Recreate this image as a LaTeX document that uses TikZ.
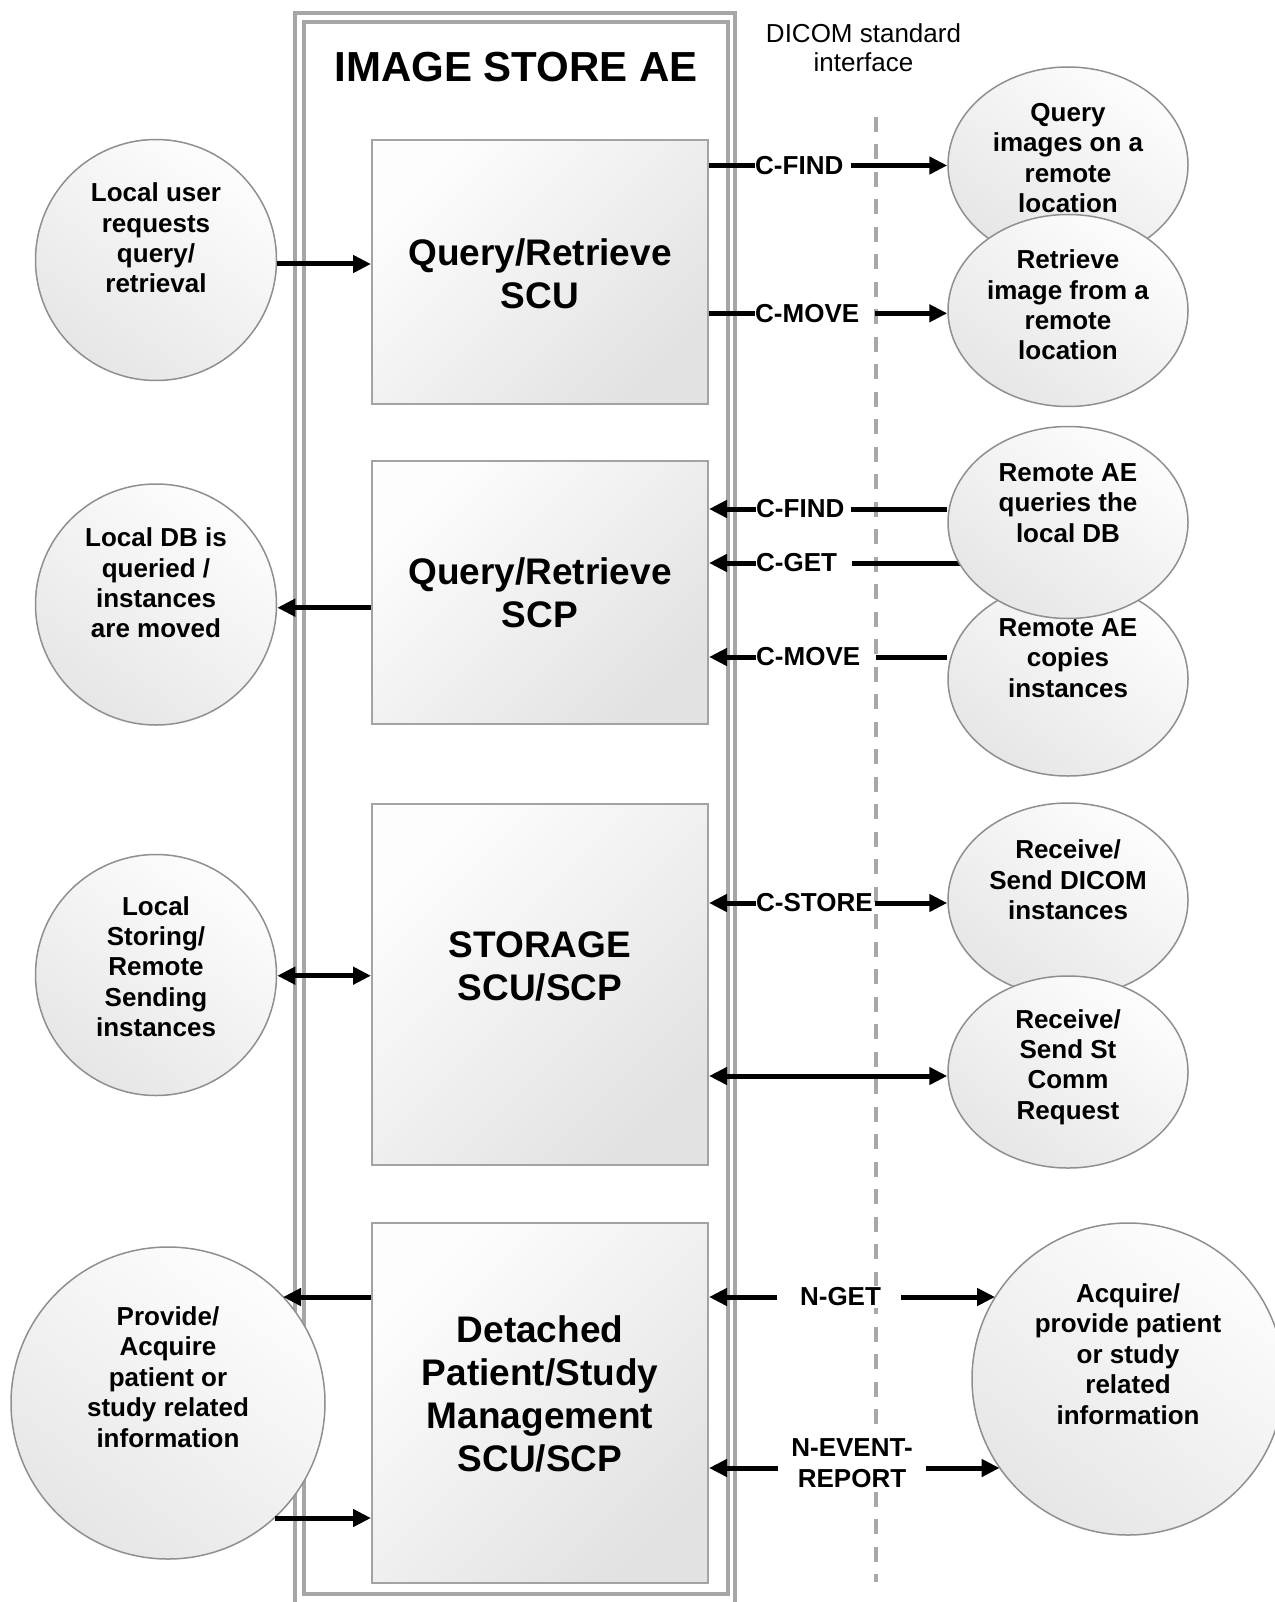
\documentclass[tikz,border=0pt]{standalone}
\usepackage{fontspec}
\setmainfont{Liberation Sans}
\usetikzlibrary{arrows.meta,shapes.geometric,calc}
\definecolor{framegray}{HTML}{A6A6A6}
\definecolor{blockedge}{HTML}{A3A3A3}
\definecolor{ovaledge}{HTML}{8F8F8F}
\definecolor{dashgray}{HTML}{A8A8A8}
\definecolor{shadeLight}{HTML}{FDFDFD}
\definecolor{shadeDark}{HTML}{E2E2E2}
\definecolor{ovalDark}{HTML}{E6E6E6}
\begin{document}
\begin{tikzpicture}[x=1pt,y=-1pt,
  >={Triangle[length=18pt,width=17pt]},
  frameline/.style={draw=framegray,line width=4pt},
  dashline/.style={draw=dashgray,line width=3.6pt,dash pattern=on 15pt off 12.5pt},
  block/.style={rectangle,draw=blockedge,line width=2pt,inner sep=0pt,minimum width=336pt,top color=shadeLight,bottom color=shadeDark,shading angle=45},
  blocktext/.style={font=\fontsize{37}{43}\selectfont\bfseries,align=center,inner sep=0pt},
  oval/.style={ellipse,draw=ovaledge,line width=1.5pt,inner sep=0pt,top color=shadeLight,bottom color=ovalDark,shading angle=-35},
  ovaltext/.style={font=\fontsize{26}{30.4}\selectfont\bfseries,align=center,inner sep=0pt},
  conn/.style={draw=black,line width=5pt},
  lbl/.style={font=\fontsize{26}{30.5}\selectfont\bfseries,inner xsep=0pt,inner ysep=2pt,fill=white,align=center},
]
\useasboundingbox (0,0) rectangle (1274,1602);

% frame of the application entity
\draw[frameline] (295.3,13.3) rectangle (735.3,1614);
\draw[frameline] (303.7,22.3) rectangle (727.7,1594);

% DICOM interface line
\coordinate (dtop) at (876,116.7);
\coordinate (dbot) at (876,1582);
\draw[dashline] (dtop) -- (dbot);

\node[font=\fontsize{42}{48}\selectfont\bfseries,inner sep=0pt] (title) at (516,67) {IMAGE STORE AE};
\node[font=\fontsize{26}{29}\selectfont,align=center,inner sep=0pt] (dicom) at (863.5,48) {DICOM standard\\interface};

% blocks
\node[block,minimum height=264pt] (SCU) at (540,272) {};
\node[block,minimum height=263pt] (SCP) at (540,592.5) {};
\node[block,minimum height=361pt] (STO) at (540,984.5) {};
\node[block,minimum height=360pt] (DET) at (540,1403) {};
\node[blocktext] (SCUt) at (540,273.5) {Query/Retrieve\\SCU};
\node[blocktext] (SCPt) at (540,592.7) {Query/Retrieve\\SCP};
\node[blocktext] (STOt) at (540,966.5) {STORAGE\\SCU/SCP};
\node[blocktext] (DETt) at (540,1394) {Detached\\Patient/Study\\Management\\SCU/SCP};

% left ovals
\node[oval,minimum width=241pt,minimum height=241pt] (L1) at (156,260) {};
\node[ovaltext] (L1t) at (156,238) {Local user\\requests\\query/\\retrieval};
\node[oval,minimum width=241pt,minimum height=241pt] (L2) at (156,604.5) {};
\node[ovaltext] (L2t) at (156,583) {Local DB is\\queried /\\instances\\are moved};
\node[oval,minimum width=241pt,minimum height=241pt] (L3) at (156,975) {};
\node[ovaltext] (L3t) at (156,966.5) {Local\\Storing/\\Remote\\Sending\\instances};
\node[oval,minimum width=314pt,minimum height=312pt] (L4) at (168,1403) {};
\node[ovaltext] (L4t) at (168,1377) {Provide/\\Acquire\\patient or\\study related\\information};

% labels
\node[lbl,anchor=west] (cf1) at (755,165.5) {C-FIND};
\node[lbl,anchor=west] (cm1) at (755,313.3) {C-MOVE};
\node[lbl,anchor=west] (cf2) at (756,509) {C-FIND};
\node[lbl,anchor=west] (cg) at (756,563) {C-GET};
\node[lbl,anchor=west] (cm2) at (756,657) {C-MOVE};
\node[lbl,anchor=west] (cs) at (756,903) {C-STORE};
\node[lbl] (ng) at (840.5,1297) {N-GET};
\node[lbl] (ne) at (852,1463) {N-EVENT-\\REPORT};

% C-GET line runs behind the oval
\coordinate (R3pos) at (1068,522.5);
\draw[conn] ($(cg.east)+(15,0)$) -- (R3pos |- cg.west);

% right ovals
\node[oval,minimum width=240pt,minimum height=196pt] (R1) at (1068,165) {};
\node[ovaltext] (R1t) at (1068,158) {Query\\images on a\\remote\\location};
\node[oval,minimum width=240pt,minimum height=192pt] (R2) at (1068,310.5) {};
\node[ovaltext] (R2t) at (1068,305) {Retrieve\\image from a\\remote\\location};
\node[oval,minimum width=240pt,minimum height=194pt] (R4) at (1068,679) {};
\node[ovaltext] (R4t) at (1068,658) {Remote AE\\copies\\instances};
\node[oval,minimum width=240pt,minimum height=192pt] (R3) at (R3pos) {};
\node[ovaltext] (R3t) at (1068,503) {Remote AE\\queries the\\local DB};
\node[oval,minimum width=240pt,minimum height=194pt] (R5) at (1068,900) {};
\node[ovaltext] (R5t) at (1068,880) {Receive/\\Send DICOM\\instances};
\node[oval,minimum width=240pt,minimum height=192pt] (R6) at (1068,1072) {};
\node[ovaltext] (R6t) at (1068,1067) {Receive/\\Send St\\Comm\\Request};
\node[oval,minimum width=312pt,minimum height=312pt] (R7) at (1128,1379) {};
\node[ovaltext] (R7t) at (1128,1354) {Acquire/\\provide patient\\or study\\related\\information};

% row coordinates
\coordinate (yC) at (0,264);
\coordinate (yG) at (0,607.7);
\coordinate (yJ) at (0,975.7);
\coordinate (yI) at (0,1076);
\coordinate (yK) at (0,1297);
\coordinate (yL) at (0,1468);
\coordinate (yM) at (0,1518);

% Query/Retrieve SCU
\draw[conn,->] (L1.east |- yC) -- (SCU.west |- yC);
\draw[conn] (SCU.east |- cf1.west) -- (cf1.west);
\draw[conn,->] ($(cf1.east)+(7,0)$) -- (R1.west |- cf1.west);
\draw[conn] (SCU.east |- cm1.west) -- (cm1.west);
\draw[conn,->] ($(cm1.east)+(16,0)$) -- (R2.west |- cm1.west);

% Query/Retrieve SCP
\draw[conn,->] (SCP.west |- yG) -- (L2.east |- yG);
\draw[conn,<-] (SCP.east |- cf2.west) -- (cf2.west);
\draw[conn] ($(cf2.east)+(6,0)$) -- (R3.west |- cf2.west);
\draw[conn,<-] (SCP.east |- cg.west) -- (cg.west);
\draw[conn,<-] (SCP.east |- cm2.west) -- (cm2.west);
\draw[conn] ($(cm2.east)+(16,0)$) -- (R4.west |- cm2.west);

% Storage
\draw[conn,<->] (L3.east |- yJ) -- (STO.west |- yJ);
\draw[conn,<-] (STO.east |- cs.west) -- (cs.west);
\draw[conn,->] ($(cs.east)+(2,0)$) -- (R5.west |- cs.west);
\draw[conn,<->] (STO.east |- yI) -- (R6.west |- yI);

% Detached patient/study management
\draw[conn,->] (DET.west |- yK) -- (L4.43 |- yK);
\draw[conn,->] (L4.313 |- yM) -- (DET.west |- yM);
\draw[conn,<-] (DET.east |- yK) -- ($(ng.west |- yK)+(-23,0)$);
\draw[conn,->] ($(ng.east |- yK)+(20,0)$) -- (R7.148 |- yK);
\draw[conn,<-] (DET.east |- yL) -- ($(ne.west |- yL)+(-13.6,0)$);
\draw[conn,->] ($(ne.east |- yL)+(13.6,0)$) -- (R7.215 |- yL);
\end{tikzpicture}
\end{document}
